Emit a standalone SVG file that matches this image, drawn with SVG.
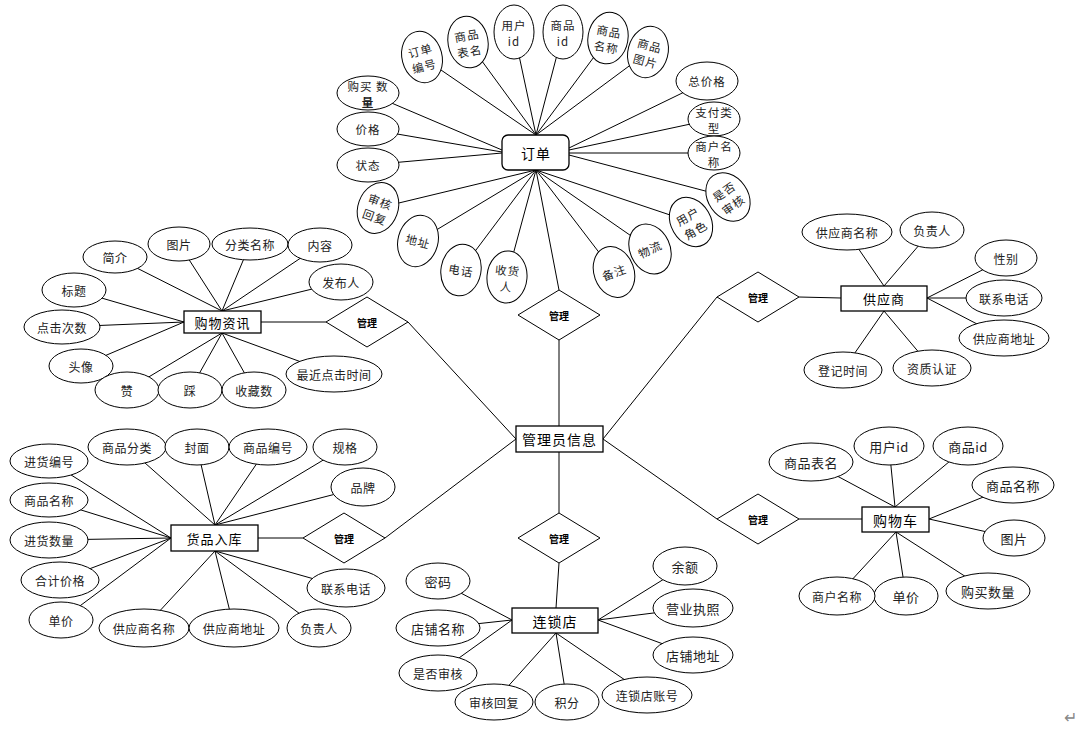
<svg xmlns="http://www.w3.org/2000/svg" width="1083" height="729" viewBox="0 0 1083 729">
<style>
text{font-family:"Noto Sans CJK SC","Noto Sans",sans-serif;fill:#222;text-anchor:middle;dominant-baseline:central}
.a{fill:#fff;stroke:#000;stroke-width:1}
.e{fill:#fff;stroke:#000;stroke-width:1.3}
.d{fill:#fff;stroke:#000;stroke-width:1}
.c line{stroke:#000;stroke-width:1}
.t12{font-size:12px;letter-spacing:0.5px}
.t13{font-size:13px;letter-spacing:0.5px}
.t11{font-size:11.5px;letter-spacing:1px}
.et{font-size:14px;letter-spacing:1px;fill:#000}
.dt{font-size:10px;font-weight:bold;fill:#000}
</style>
<rect width="1083" height="729" fill="#fff"/>
<g id="connectors" class="c">
<!-- order -->
<line x1="536" y1="135" x2="422" y2="57"/>
<line x1="536" y1="135" x2="468" y2="42"/>
<line x1="536" y1="135" x2="514" y2="32"/>
<line x1="536" y1="135" x2="563" y2="32"/>
<line x1="536" y1="135" x2="608" y2="38"/>
<line x1="536" y1="135" x2="648" y2="52"/>
<line x1="569" y1="148" x2="707" y2="81"/>
<line x1="569" y1="150" x2="714" y2="119"/>
<line x1="569" y1="153" x2="714" y2="153"/>
<line x1="569" y1="155" x2="728" y2="197"/>
<line x1="502" y1="150" x2="368" y2="93"/>
<line x1="502" y1="152" x2="368" y2="129"/>
<line x1="502" y1="153" x2="368" y2="165"/>
<line x1="536" y1="170" x2="378" y2="208"/>
<line x1="536" y1="170" x2="418" y2="241"/>
<line x1="536" y1="170" x2="461" y2="270"/>
<line x1="536" y1="170" x2="507" y2="277"/>
<line x1="536" y1="170" x2="614" y2="272"/>
<line x1="536" y1="170" x2="650" y2="249"/>
<line x1="536" y1="170" x2="691" y2="222"/>
<line x1="536" y1="170" x2="559" y2="290"/>
<!-- 购物资讯 -->
<line x1="222" y1="311" x2="115" y2="257"/>
<line x1="222" y1="311" x2="179" y2="244"/>
<line x1="222" y1="311" x2="250" y2="244"/>
<line x1="222" y1="311" x2="320" y2="245"/>
<line x1="222" y1="311" x2="341" y2="282"/>
<line x1="184" y1="322" x2="74" y2="290"/>
<line x1="184" y1="322" x2="62" y2="327"/>
<line x1="184" y1="322" x2="81" y2="366"/>
<line x1="222" y1="333" x2="127" y2="390"/>
<line x1="222" y1="333" x2="190" y2="390"/>
<line x1="222" y1="333" x2="254" y2="390"/>
<line x1="222" y1="333" x2="334" y2="374"/>
<line x1="261" y1="322" x2="326" y2="322"/>
<!-- 货品入库 -->
<line x1="171" y1="538" x2="49" y2="461"/>
<line x1="171" y1="538" x2="49" y2="500"/>
<line x1="171" y1="538" x2="49" y2="540"/>
<line x1="171" y1="538" x2="60" y2="580"/>
<line x1="171" y1="538" x2="61" y2="620"/>
<line x1="215" y1="525" x2="127" y2="447"/>
<line x1="215" y1="525" x2="197" y2="447"/>
<line x1="215" y1="525" x2="268" y2="447"/>
<line x1="215" y1="525" x2="345" y2="447"/>
<line x1="215" y1="525" x2="363" y2="487"/>
<line x1="215" y1="551" x2="346" y2="588"/>
<line x1="215" y1="551" x2="319" y2="628"/>
<line x1="215" y1="551" x2="144" y2="628"/>
<line x1="215" y1="551" x2="234" y2="628"/>
<line x1="258" y1="538" x2="303" y2="538"/>
<!-- 连锁店 -->
<line x1="512" y1="620" x2="438" y2="581"/>
<line x1="512" y1="620" x2="438" y2="628"/>
<line x1="512" y1="620" x2="438" y2="673"/>
<line x1="556" y1="633" x2="494" y2="702"/>
<line x1="556" y1="633" x2="567" y2="702"/>
<line x1="556" y1="633" x2="647" y2="695"/>
<line x1="598" y1="620" x2="685" y2="566"/>
<line x1="598" y1="620" x2="693" y2="608"/>
<line x1="598" y1="620" x2="693" y2="655"/>
<line x1="559" y1="563" x2="556" y2="608"/>
<!-- 供应商 -->
<line x1="884" y1="286" x2="847" y2="232"/>
<line x1="884" y1="286" x2="932" y2="230"/>
<line x1="927" y1="298" x2="1006" y2="258"/>
<line x1="927" y1="298" x2="1004" y2="298"/>
<line x1="927" y1="298" x2="1004" y2="338"/>
<line x1="884" y1="311" x2="843" y2="370"/>
<line x1="884" y1="311" x2="932" y2="368"/>
<line x1="799" y1="297" x2="841" y2="298"/>
<!-- 购物车 -->
<line x1="895" y1="507" x2="811" y2="462"/>
<line x1="895" y1="507" x2="889" y2="446"/>
<line x1="895" y1="507" x2="968" y2="446"/>
<line x1="929" y1="519" x2="1013" y2="485"/>
<line x1="929" y1="519" x2="1014" y2="538"/>
<line x1="896" y1="532" x2="988" y2="591"/>
<line x1="896" y1="532" x2="906" y2="596"/>
<line x1="896" y1="532" x2="837" y2="596"/>
<line x1="799" y1="519" x2="862" y2="519"/>
<!-- 管理员信息 -->
<line x1="559" y1="426" x2="559" y2="340"/>
<line x1="516" y1="439" x2="408" y2="322"/>
<line x1="516" y1="439" x2="385" y2="538"/>
<line x1="603" y1="439" x2="717" y2="297"/>
<line x1="603" y1="439" x2="717" y2="519"/>
<line x1="559" y1="452" x2="559" y2="513"/>
</g>

<!-- 订单 -->
<g id="order">
<rect class="e" x="502" y="135" width="67" height="35" rx="6"/>
<text class="et" x="536" y="153">订单</text>
</g>
<g id="order-attrs" class="t11">
<g transform="translate(422,57) rotate(-15)"><ellipse class="a" rx="20" ry="26"/><text y="-7" class="t11">订单</text><text y="9" class="t11">编号</text></g>
<g transform="translate(468,42) rotate(-10)"><ellipse class="a" rx="20" ry="26"/><text y="-7" class="t11">商品</text><text y="9" class="t11">表名</text></g>
<g transform="translate(514,32)"><ellipse class="a" rx="20" ry="27"/><text y="-7" class="t11">用户</text><text y="9" class="t11">id</text></g>
<g transform="translate(563,32)"><ellipse class="a" rx="20" ry="27"/><text y="-7" class="t11">商品</text><text y="9" class="t11">id</text></g>
<g transform="translate(608,38) rotate(10)"><ellipse class="a" rx="20" ry="26"/><text y="-7" class="t11">商品</text><text y="9" class="t11">名称</text></g>
<g transform="translate(648,52) rotate(15)"><ellipse class="a" rx="20" ry="26"/><text y="-7" class="t11">商品</text><text y="9" class="t11">图片</text></g>
<g transform="translate(707,81)"><ellipse class="a" rx="31" ry="19"/><text class="t11">总价格</text></g>
<g transform="translate(714,119)"><ellipse class="a" rx="26" ry="17"/><text y="-7" class="t11">支付类</text><text y="9" class="t11">型</text></g>
<g transform="translate(714,153)"><ellipse class="a" rx="26" ry="17"/><text y="-7" class="t11">商户名</text><text y="9" class="t11">称</text></g>
<g transform="translate(728,197) rotate(-35)"><ellipse class="a" rx="20" ry="26"/><text y="-7" class="t11">是否</text><text y="9" class="t11">审核</text></g>
<g transform="translate(691,222) rotate(-30)"><ellipse class="a" rx="20" ry="26"/><text y="-7" class="t11">用户</text><text y="9" class="t11">角色</text></g>
<g transform="translate(650,249) rotate(-25)"><ellipse class="a" rx="20" ry="26"/><text class="t11">物流</text></g>
<g transform="translate(614,272) rotate(-20)"><ellipse class="a" rx="20" ry="26"/><text class="t11">备注</text></g>
<g transform="translate(507,277) rotate(5)"><ellipse class="a" rx="20" ry="26"/><text y="-7" class="t11">收货</text><text y="9" class="t11">人</text></g>
<g transform="translate(461,270) rotate(10)"><ellipse class="a" rx="20" ry="26"/><text class="t11">电话</text></g>
<g transform="translate(418,241) rotate(15)"><ellipse class="a" rx="20" ry="26"/><text class="t11">地址</text></g>
<g transform="translate(378,208) rotate(20)"><ellipse class="a" rx="20" ry="26"/><text y="-7" class="t11">审核</text><text y="9" class="t11">回复</text></g>
<g transform="translate(368,93)"><ellipse class="a" rx="31" ry="17"/><text y="-7" class="t11">购买 数</text><text y="9" class="t11" font-weight="bold">量</text></g>
<g transform="translate(368,129)"><ellipse class="a" rx="31" ry="17"/><text class="t11">价格</text></g>
<g transform="translate(368,165)"><ellipse class="a" rx="31" ry="17"/><text class="t11">状态</text></g>
</g>

<!-- 购物资讯 -->
<g id="news">
<rect class="e" x="184" y="311" width="77" height="22"/>
<text class="et" x="222.5" y="322" style="font-size:13px">购物资讯</text>
</g>
<g id="news-attrs">
<ellipse class="a" cx="115" cy="257" rx="32" ry="16"/><text class="t12" x="115" y="257">简介</text>
<ellipse class="a" cx="179" cy="244" rx="31" ry="17"/><text class="t12" x="179" y="244">图片</text>
<ellipse class="a" cx="250" cy="244" rx="38" ry="16"/><text class="t12" x="250" y="244">分类名称</text>
<ellipse class="a" cx="320" cy="245" rx="32" ry="17"/><text class="t12" x="320" y="245">内容</text>
<ellipse class="a" cx="341" cy="282" rx="32" ry="18"/><text class="t12" x="341" y="282">发布人</text>
<ellipse class="a" cx="74" cy="290" rx="32" ry="17"/><text class="t12" x="74" y="290">标题</text>
<ellipse class="a" cx="62" cy="327" rx="38" ry="17"/><text class="t12" x="62" y="327">点击次数</text>
<ellipse class="a" cx="81" cy="366" rx="32" ry="17"/><text class="t12" x="81" y="366">头像</text>
<ellipse class="a" cx="127" cy="390" rx="32" ry="18"/><text class="t12" x="127" y="390">赞</text>
<ellipse class="a" cx="190" cy="390" rx="32" ry="18"/><text class="t12" x="190" y="390">踩</text>
<ellipse class="a" cx="254" cy="390" rx="32" ry="18"/><text class="t12" x="254" y="390">收藏数</text>
<ellipse class="a" cx="334" cy="374" rx="48" ry="18"/><text class="t12" x="334" y="374">最近点击时间</text>
</g>

<!-- 货品入库 -->
<g id="stock">
<rect class="e" x="171" y="525" width="87" height="26"/>
<text class="et" x="214.5" y="538" style="font-size:13px">货品入库</text>
</g>
<g id="stock-attrs">
<ellipse class="a" cx="49" cy="461" rx="39" ry="17"/><text class="t12" x="49" y="461">进货编号</text>
<ellipse class="a" cx="49" cy="500" rx="39" ry="17"/><text class="t12" x="49" y="500">商品名称</text>
<ellipse class="a" cx="49" cy="540" rx="39" ry="18"/><text class="t12" x="49" y="540">进货数量</text>
<ellipse class="a" cx="60" cy="580" rx="39" ry="18"/><text class="t12" x="60" y="580">合计价格</text>
<ellipse class="a" cx="61" cy="620" rx="32" ry="18"/><text class="t12" x="61" y="620">单价</text>
<ellipse class="a" cx="127" cy="447" rx="39" ry="18"/><text class="t12" x="127" y="447">商品分类</text>
<ellipse class="a" cx="197" cy="447" rx="32" ry="18"/><text class="t12" x="197" y="447">封面</text>
<ellipse class="a" cx="268" cy="447" rx="39" ry="18"/><text class="t12" x="268" y="447">商品编号</text>
<ellipse class="a" cx="345" cy="447" rx="32" ry="18"/><text class="t12" x="345" y="447">规格</text>
<ellipse class="a" cx="363" cy="487" rx="32" ry="19"/><text class="t12" x="363" y="487">品牌</text>
<ellipse class="a" cx="346" cy="588" rx="39" ry="19"/><text class="t12" x="346" y="588">联系电话</text>
<ellipse class="a" cx="319" cy="628" rx="32" ry="19"/><text class="t12" x="319" y="628">负责人</text>
<ellipse class="a" cx="144" cy="628" rx="45" ry="19"/><text class="t12" x="144" y="628">供应商名称</text>
<ellipse class="a" cx="234" cy="628" rx="45" ry="19"/><text class="t12" x="234" y="628">供应商地址</text>
</g>

<!-- 连锁店 -->
<g id="store">
<rect class="e" x="512" y="608" width="86" height="25"/>
<text class="et" x="555" y="620.5">连锁店</text>
</g>
<g id="store-attrs">
<ellipse class="a" cx="438" cy="581" rx="32" ry="18"/><text class="t13" x="438" y="581">密码</text>
<ellipse class="a" cx="438" cy="628" rx="42" ry="18"/><text class="t13" x="438" y="628">店铺名称</text>
<ellipse class="a" cx="438" cy="673" rx="39" ry="18"/><text class="t12" x="438" y="673">是否审核</text>
<ellipse class="a" cx="494" cy="702" rx="39" ry="18"/><text class="t12" x="494" y="702">审核回复</text>
<ellipse class="a" cx="567" cy="702" rx="32" ry="18"/><text class="t12" x="567" y="702">积分</text>
<ellipse class="a" cx="647" cy="695" rx="45" ry="18"/><text class="t12" x="647" y="695">连锁店账号</text>
<ellipse class="a" cx="685" cy="566" rx="32" ry="19"/><text class="t13" x="685" y="566">余额</text>
<ellipse class="a" cx="693" cy="608" rx="40" ry="19"/><text class="t13" x="693" y="608">营业执照</text>
<ellipse class="a" cx="693" cy="655" rx="40" ry="18"/><text class="t13" x="693" y="655">店铺地址</text>
</g>

<!-- 供应商 -->
<g id="supplier">
<rect class="e" x="841" y="286" width="86" height="25"/>
<text class="et" x="884" y="298.5" style="font-size:13px">供应商</text>
</g>
<g id="supplier-attrs">
<ellipse class="a" cx="847" cy="232" rx="45" ry="18"/><text class="t12" x="847" y="232">供应商名称</text>
<ellipse class="a" cx="932" cy="230" rx="32" ry="18"/><text class="t12" x="932" y="230">负责人</text>
<ellipse class="a" cx="1006" cy="258" rx="31" ry="18"/><text class="t12" x="1006" y="258">性别</text>
<ellipse class="a" cx="1004" cy="298" rx="38" ry="18"/><text class="t12" x="1004" y="298">联系电话</text>
<ellipse class="a" cx="1004" cy="338" rx="45" ry="18"/><text class="t12" x="1004" y="338">供应商地址</text>
<ellipse class="a" cx="843" cy="370" rx="39" ry="18"/><text class="t12" x="843" y="370">登记时间</text>
<ellipse class="a" cx="932" cy="368" rx="39" ry="18"/><text class="t12" x="932" y="368">资质认证</text>
</g>

<!-- 购物车 -->
<g id="cart">
<rect class="e" x="862" y="507" width="67" height="25"/>
<text class="et" x="895.5" y="519.5">购物车</text>
</g>
<g id="cart-attrs">
<ellipse class="a" cx="811" cy="462" rx="42" ry="19"/><text class="t13" x="811" y="462">商品表名</text>
<ellipse class="a" cx="889" cy="446" rx="35" ry="19"/><text class="t13" x="889" y="446">用户id</text>
<ellipse class="a" cx="968" cy="446" rx="35" ry="19"/><text class="t13" x="968" y="446">商品id</text>
<ellipse class="a" cx="1013" cy="485" rx="41" ry="18"/><text class="t13" x="1013" y="485">商品名称</text>
<ellipse class="a" cx="1014" cy="538" rx="31" ry="18"/><text class="t13" x="1014" y="538">图片</text>
<ellipse class="a" cx="988" cy="591" rx="42" ry="18"/><text class="t13" x="988" y="591">购买数量</text>
<ellipse class="a" cx="906" cy="596" rx="32" ry="19"/><text class="t13" x="906" y="596">单价</text>
<ellipse class="a" cx="837" cy="596" rx="38" ry="19"/><text class="t12" x="837" y="596">商户名称</text>
</g>

<!-- 管理员信息 -->
<g id="admin">
<rect class="e" x="516" y="426" width="87" height="26"/>
<text class="et" x="559.5" y="439">管理员信息</text>
</g>

<!-- relationships -->
<g id="rel-order"><polygon class="d" points="559,290 600,315 559,340 518,315"/><text class="dt" x="559" y="315">管理</text></g>
<g id="rel-news"><polygon class="d" points="367,297 408,322 367,347 326,322"/><text class="dt" x="367" y="322">管理</text></g>
<g id="rel-stock"><polygon class="d" points="344,513 385,538 344,563 303,538"/><text class="dt" x="344" y="538">管理</text></g>
<g id="rel-store"><polygon class="d" points="559,513 600,538 559,563 518,538"/><text class="dt" x="559" y="538">管理</text></g>
<g id="rel-supplier"><polygon class="d" points="758,272 799,297 758,322 717,297"/><text class="dt" x="758" y="297">管理</text></g>
<g id="rel-cart"><polygon class="d" points="758,494 799,519 758,544 717,519"/><text class="dt" x="758" y="519">管理</text></g>

<text x="1070" y="716" style="font-size:16px;fill:#888">↵</text>
</svg>
